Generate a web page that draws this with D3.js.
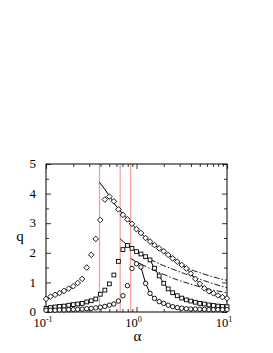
<!DOCTYPE html>
<html>
<head>
<meta charset="utf-8">
<script src="https://cdn.jsdelivr.net/npm/d3@7"></script>
<style>
  body { margin: 0; background: #fff; }
  svg { display: block; }
  text { font-family: "Liberation Serif", "DejaVu Serif", serif; fill: #000; }
</style>
</head>
<body>
<svg></svg>
<script>
const width = 273;
const height = 353;
const margin = {left: 46, right: 46, top: 164, bottom: 41};

/* measured alpha grid (shared by the three data sets) */
const alpha = [0.1, 0.112, 0.126, 0.141, 0.158, 0.178, 0.2, 0.224, 0.251, 0.282,
  0.316, 0.355, 0.398, 0.447, 0.501, 0.562, 0.631, 0.708, 0.794, 0.891,
  1, 1.12, 1.26, 1.41, 1.58, 1.78, 2, 2.24, 2.51, 2.82,
  3.16, 3.55, 3.98, 4.47, 5.01, 5.62, 6.31, 7.08, 7.94, 8.91, 10];

const qDiamond = [0.44, 0.52, 0.58, 0.64, 0.71, 0.79, 0.87, 0.98, 1.12, 1.50,
  1.93, 2.47, 3.11, 3.80, 3.90, 3.74, 3.47, 3.28, 3.13, 2.98,
  2.80, 2.67, 2.50, 2.38, 2.26, 2.15, 2.05, 1.93, 1.81, 1.70,
  1.59, 1.47, 1.30, 1.12, 0.95, 0.80, 0.70, 0.63, 0.56, 0.50, 0.46];

const qSquare = [0.12, 0.15, 0.17, 0.19, 0.20, 0.23, 0.25, 0.27, 0.29, 0.34,
  0.38, 0.44, 0.60, 0.74, 0.95, 1.25, 1.71, 2.11, 2.25, 2.15,
  2.04, 1.96, 1.87, 1.76, 1.48, 1.22, 0.97, 0.78, 0.65, 0.55,
  0.47, 0.41, 0.37, 0.33, 0.29, 0.27, 0.24, 0.22, 0.20, 0.19, 0.18];

const qCircle = [0.06, 0.06, 0.06, 0.07, 0.07, 0.08, 0.08, 0.09, 0.10, 0.11,
  0.12, 0.14, 0.16, 0.19, 0.23, 0.27, 0.37, 0.55, 0.89, 1.47,
  1.63, 1.52, 0.97, 0.63, 0.46, 0.35, 0.29, 0.23, 0.18, 0.15,
  0.13, 0.11, 0.10, 0.10, 0.09, 0.09, 0.08, 0.08, 0.08, 0.08, 0.08];

/* index where the solid line through the data starts */
const dataLineStart = [30, 23, 21];

/* critical alphas (red lines) */
const criticalAlpha = [0.39, 0.66, 0.863];

/* theory curves: solid part and dashed continuation */
const theory1Alpha = [0.39, 0.45, 0.5, 0.56, 0.63, 0.71, 0.79, 0.89, 1, 1.26, 1.58, 2, 2.51, 3.16];
const theory1Q = [4.38, 4.13, 3.93, 3.69, 3.49, 3.31, 3.15, 2.97, 2.80, 2.51, 2.26, 2.04, 1.82, 1.60];
const theory1DashAlpha = [3.16, 4, 5, 6.3, 8, 10];
const theory1DashQ = [1.60, 1.43, 1.33, 1.23, 1.14, 1.07];

const theory2Alpha = [0.66, 0.75, 0.85, 1, 1.12, 1.26, 1.41];
const theory2Q = [2.47, 2.32, 2.19, 2.05, 1.96, 1.87, 1.78];
const theory2DashAlpha = [1.41, 1.78, 2.5, 3.5, 5, 7, 10];
const theory2DashQ = [1.78, 1.63, 1.45, 1.28, 1.11, 0.96, 0.82];

const theory3Alpha = [0.863, 0.95, 1.05, 1.12];
const theory3Q = [1.81, 1.73, 1.66, 1.62];
const theory3DashAlpha = [1.12, 1.41, 2, 2.8, 4, 5.6, 7.9, 10];
const theory3DashQ = [1.62, 1.47, 1.27, 1.09, 0.94, 0.81, 0.71, 0.65];

const yTicks = [0, 1, 2, 3, 4, 5];
const yMinorTicks = [0.5, 1.5, 2.5, 3.5, 4.5];
const xTicks = [0.1, 1, 10];
const xTickExp = ['-1', '0', '1'];
const xMinorTicks = [0.2, 0.3, 0.4, 0.5, 0.6, 0.7, 0.8, 0.9, 2, 3, 4, 5, 6, 7, 8, 9];

const svg = d3.select('svg')
  .attr('width', width)
  .attr('height', height);

const x = d3.scaleLog()
  .domain([0.1, 10])
  .range([margin.left, width - margin.right]);

const y = d3.scaleLinear()
  .domain([0, 5])
  .range([height - margin.bottom, margin.top]);

const x0 = x.range()[0], x1 = x.range()[1];
const y0 = y.range()[0], y1 = y.range()[1];

/* red vertical lines */
svg.append('g')
  .selectAll('line')
  .data(criticalAlpha)
  .join('line')
    .attr('x1', d => x(d)).attr('x2', d => x(d))
    .attr('y1', y1).attr('y2', y0)
    .attr('stroke', '#f59a9a')
    .attr('stroke-width', 1.2);

/* axes, ticks inward on all four sides */
function addAxis(axisFn, tx, ty, scale, values, size) {
  svg.append('g')
    .attr('transform', `translate(${tx},${ty})`)
    .call(axisFn(scale).tickValues(values).tickSize(-size).tickSizeOuter(0).tickFormat(''))
    .call(g => g.select('.domain').remove())
    .call(g => g.selectAll('line').attr('stroke', '#000').attr('stroke-width', 0.8));
}
addAxis(d3.axisBottom, 0, y0, x, xTicks, 5);
addAxis(d3.axisBottom, 0, y0, x, xMinorTicks, 3);
addAxis(d3.axisTop, 0, y1, x, xTicks, 5);
addAxis(d3.axisTop, 0, y1, x, xMinorTicks, 3);
addAxis(d3.axisLeft, x0, 0, y, yTicks, 5);
addAxis(d3.axisLeft, x0, 0, y, yMinorTicks, 3);
addAxis(d3.axisRight, x1, 0, y, yTicks, 5);
addAxis(d3.axisRight, x1, 0, y, yMinorTicks, 3);

/* frame */
svg.append('rect')
  .attr('x', x0).attr('y', y1)
  .attr('width', x1 - x0).attr('height', y0 - y1)
  .attr('fill', 'none')
  .attr('stroke', '#000')
  .attr('stroke-width', 1);

/* y tick labels */
svg.append('g')
  .selectAll('text')
  .data(yTicks)
  .join('text')
    .attr('x', x0 - 10)
    .attr('y', d => y(d))
    .attr('dy', '0.33em')
    .attr('text-anchor', 'end')
    .style('font-size', '13px')
    .text(d => d);

/* x tick labels, 10^n */
const xLab = svg.append('g')
  .selectAll('text')
  .data(xTicks)
  .join('text')
    .attr('x', d => x(d) - 3)
    .attr('y', y0 + 15)
    .attr('text-anchor', 'middle')
    .style('font-size', '12.5px');
xLab.append('tspan').text('10');
xLab.append('tspan')
  .attr('dy', -5)
  .style('font-size', '8px')
  .text((d, i) => xTickExp[i]);

/* axis titles */
svg.append('text')
  .attr('x', 20).attr('y', 241)
  .attr('text-anchor', 'middle')
  .style('font-size', '15px')
  .text('q');

svg.append('text')
  .attr('x', (x0 + x1) / 2 + 1).attr('y', 341)
  .attr('text-anchor', 'middle')
  .style('font-size', '15px')
  .text('α');

/* theory curves */
const line = d3.line()
  .x(d => x(d[0]))
  .y(d => y(d[1]))
  .curve(d3.curveMonotoneX);

const solids = [[theory1Alpha, theory1Q], [theory2Alpha, theory2Q], [theory3Alpha, theory3Q]];
const dashes = [[theory1DashAlpha, theory1DashQ], [theory2DashAlpha, theory2DashQ], [theory3DashAlpha, theory3DashQ]];

solids.forEach(([a, q]) => {
  svg.append('path')
    .attr('d', line(a.map((v, i) => [v, q[i]])))
    .attr('fill', 'none')
    .attr('stroke', '#000')
    .attr('stroke-width', 1);
});

dashes.forEach(([a, q]) => {
  svg.append('path')
    .attr('d', line(a.map((v, i) => [v, q[i]])))
    .attr('fill', 'none')
    .attr('stroke', '#000')
    .attr('stroke-width', 0.9)
    .attr('stroke-dasharray', '6,2,1.5,2');
});

/* solid lines through the data after departure from theory */
const seriesQ = [qDiamond, qSquare, qCircle];
const straight = d3.line().x(d => x(d[0])).y(d => y(d[1]));
seriesQ.forEach((q, s) => {
  const pts = alpha.map((a, i) => [a, q[i]]).slice(dataLineStart[s]);
  svg.append('path')
    .attr('d', straight(pts))
    .attr('fill', 'none')
    .attr('stroke', '#000')
    .attr('stroke-width', 1);
});

/* markers */
const markers = svg.append('g')
  .attr('fill', 'none')
  .attr('stroke', '#000')
  .attr('stroke-width', 0.9);

markers.selectAll('path.diamond')
  .data(alpha.map((a, i) => [a, qDiamond[i]]))
  .join('path')
    .classed('diamond', true)
    .attr('d', d => {
      const cx = x(d[0]), cy = y(d[1]), s = 2.8;
      return `M${cx},${cy - s}L${cx + s},${cy}L${cx},${cy + s}L${cx - s},${cy}Z`;
    })
    .attr('fill', '#fff');

markers.selectAll('rect.square')
  .data(alpha.map((a, i) => [a, qSquare[i]]))
  .join('rect')
    .classed('square', true)
    .attr('x', d => x(d[0]) - 1.9)
    .attr('y', d => y(d[1]) - 1.9)
    .attr('width', 3.8)
    .attr('height', 3.8)
    .attr('fill', '#fff');

markers.selectAll('circle')
  .data(alpha.map((a, i) => [a, qCircle[i]]))
  .join('circle')
    .attr('cx', d => x(d[0]))
    .attr('cy', d => y(d[1]))
    .attr('r', 2.2)
    .attr('fill', '#fff');
</script>
</body>
</html>
